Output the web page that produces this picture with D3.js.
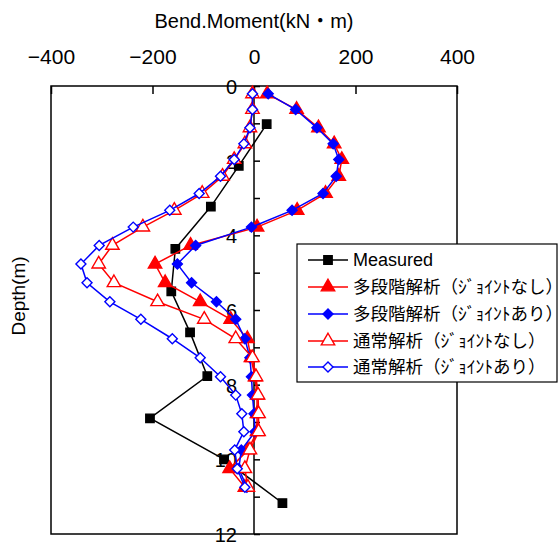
<!DOCTYPE html>
<html><head><meta charset="utf-8">
<script src="https://cdn.jsdelivr.net/npm/d3@7"></script>
<style>
html,body{margin:0;padding:0;background:#fff;}
text{font-family:"Liberation Sans","Noto Sans CJK JP",sans-serif;fill:#000;}
</style></head>
<body>
<script>
// ---- data ----
const xTicks = [-400, -200, 0, 200, 400];
const yTickLabels = [0, 2, 4, 6, 8, 10, 12];
const yTicks = [0,1,2,3,4,5,6,7,8,9,10,11,12];

const measuredDepth = [1.02, 2.14, 3.23, 4.36, 5.5, 6.6, 7.77, 8.9, 10.0, 11.17];
const measuredMoment = [25, -30, -85, -155, -163, -126, -92, -205, -59, 56];

const analysisDepth = [0.21,0.63,1.12,1.55,1.97,2.42,2.88,3.33,3.78,4.27,4.77,5.27,5.78,6.25,6.77,7.28,7.79,8.28,8.78,9.26,9.75,10.25,10.75];
const multiNoJoint = [26,84,127,158,173,167,141,85,6,-125,-195,-175,-106,-46,-13,-6,2,6,6,6,-12,-48,-18];
const multiJoint   = [28,82,124,156,167,162,136,75,-5,-115,-151,-123,-74,-36,-18,-8,-5,-3,0,2,-25,-30,-14];
const normalNoJoint= [-3,-3,-8,-18,-39,-62,-102,-157,-219,-279,-306,-276,-190,-98,-36,-3,4,8,9,9,-8,-18,-12];
const normalJoint  = [-3,-3,-8,-20,-39,-66,-108,-166,-238,-305,-341,-329,-284,-223,-161,-106,-66,-36,-24,-20,-38,-33,-18];

const seriesNames = ["Measured","多段階解析（ｼﾞｮｲﾝﾄなし）","多段階解析（ｼﾞｮｲﾝﾄあり）","通常解析（ｼﾞｮｲﾝﾄなし）","通常解析（ｼﾞｮｲﾝﾄあり）"];

const W = 559, H = 542;
const svg = d3.select("body").append("svg").attr("width", W).attr("height", H);

const x = d3.scaleLinear().domain([-400, 400]).range([51, 457]);
const y = d3.scaleLinear().domain([0, 12]).range([86, 534]);

// frame
svg.append("rect").attr("x", x(-400)).attr("y", y(0))
  .attr("width", x(400) - x(-400)).attr("height", y(12) - y(0))
  .attr("fill", "none").attr("stroke", "#000").attr("stroke-width", 1.5);

// top axis
const gx = svg.append("g").attr("transform", `translate(0,${y(0)})`)
  .call(d3.axisTop(x).tickValues(xTicks).tickSizeInner(-8).tickSizeOuter(0).tickPadding(22)
    .tickFormat(d => d < 0 ? "\u2212" + Math.abs(d) : String(d)));
gx.select(".domain").remove();
gx.selectAll("line").attr("stroke", "#000").attr("stroke-width", 1.5);
gx.selectAll("text").attr("font-size", 21).attr("font-family", "Liberation Sans");

// zero vertical axis
svg.append("line").attr("x1", x(0)).attr("x2", x(0)).attr("y1", y(0)).attr("y2", y(12))
  .attr("stroke", "#000").attr("stroke-width", 1.5);
const gyT = svg.append("g").attr("transform", `translate(${x(0)},0)`)
  .call(d3.axisLeft(y).tickValues(yTicks).tickSizeInner(-6).tickSizeOuter(0).tickFormat(""));
gyT.select(".domain").remove();
gyT.selectAll("line").attr("stroke", "#000").attr("stroke-width", 1.5);
const gyL = svg.append("g").attr("transform", `translate(${x(0)},1)`)
  .call(d3.axisLeft(y).tickValues(yTickLabels).tickSize(0).tickPadding(17).tickFormat(d3.format("d")));
gyL.select(".domain").remove();
gyL.selectAll("text").attr("font-size", 20).attr("font-family", "Liberation Sans");

// titles
svg.append("text").attr("x", x(0)).attr("y", 28).attr("text-anchor", "middle")
  .attr("font-size", 20).text("Bend.Moment(kN・m)");
svg.append("text").attr("transform", `translate(25,296) rotate(-90)`)
  .attr("text-anchor", "middle").attr("font-size", 19).text("Depth(m)");

// markers
const sq = d3.symbol().type(d3.symbolSquare).size(70);
const tri = d3.symbol().type(d3.symbolTriangle).size(78);
const dia = d3.symbol().type(d3.symbolSquare).size(50);

const series = [
  {name: seriesNames[0], depth: measuredDepth, vals: measuredMoment, color: "#000", sym: sq, rot: 0, fill: "#000"},
  {name: seriesNames[1], depth: analysisDepth, vals: multiNoJoint, color: "#ff0000", sym: tri, rot: 0, fill: "#ff0000"},
  {name: seriesNames[2], depth: analysisDepth, vals: multiJoint, color: "#0000ff", sym: dia, rot: 45, fill: "#0000ff"},
  {name: seriesNames[3], depth: analysisDepth, vals: normalNoJoint, color: "#ff0000", sym: tri, rot: 0, fill: "#fff"},
  {name: seriesNames[4], depth: analysisDepth, vals: normalJoint, color: "#0000ff", sym: dia, rot: 45, fill: "#fff"}
];

const line = d3.line().x(d => x(d[0])).y(d => y(d[1]));
series.forEach(s => {
  const pts = s.vals.map((v, i) => [v, s.depth[i]]);
  svg.append("path").attr("d", line(pts)).attr("fill", "none")
    .attr("stroke", s.color).attr("stroke-width", 1.5);
  svg.append("g").selectAll("path").data(pts).join("path")
    .attr("d", s.sym).attr("transform", d => `translate(${x(d[0])},${y(d[1])}) rotate(${s.rot})`)
    .attr("fill", s.fill).attr("stroke", s.color).attr("stroke-width", 1.4);
});

// legend
const lg = svg.append("g");
lg.append("rect").attr("x", 297).attr("y", 244).attr("width", 260).attr("height", 138)
  .attr("fill", "#fff").attr("stroke", "#000").attr("stroke-width", 1.2);
const rowY = [260, 287, 314, 341, 367];
series.forEach((s, i) => {
  const g = lg.append("g").attr("transform", `translate(0,${rowY[i]})`);
  g.append("line").attr("x1", 308).attr("x2", 348).attr("y1", 0).attr("y2", 0)
    .attr("stroke", s.color).attr("stroke-width", 1.5);
  g.append("path").attr("d", s.sym).attr("transform", `translate(328,0) rotate(${s.rot})`)
    .attr("fill", s.fill).attr("stroke", s.color).attr("stroke-width", 1.4);
  g.append("text").attr("x", 353).attr("y", 6).attr("font-size", i === 0 ? 18 : 17.5)
    .attr("font-family", i === 0 ? "Liberation Sans" : "Noto Sans CJK JP").text(s.name);
});
</script>
</body></html>
